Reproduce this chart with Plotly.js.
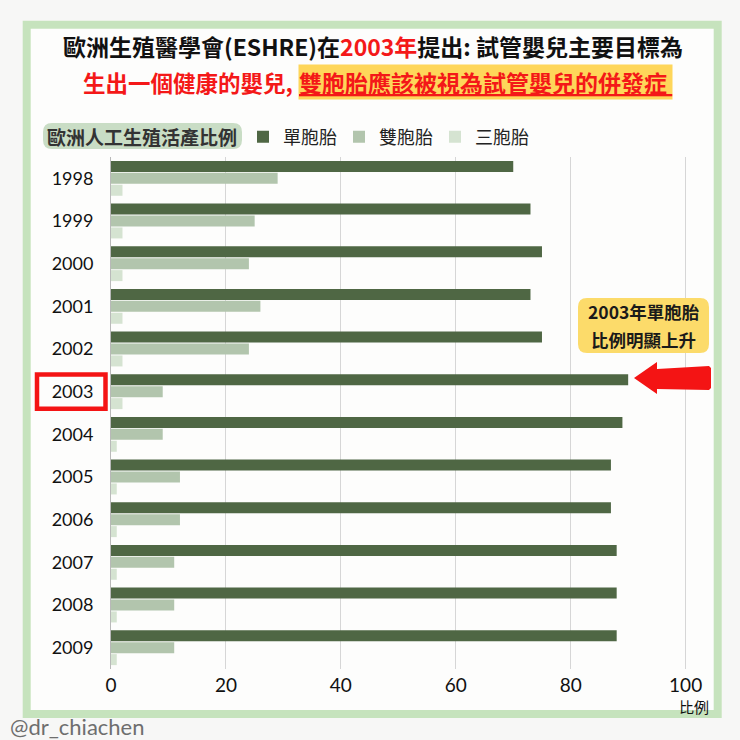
<!DOCTYPE html>
<html>
<head>
<meta charset="utf-8">
<script src="https://cdn.plot.ly/plotly-3.0.1.min.js"></script>
<style>html,body{margin:0;padding:0;background:#f7f7f6;}</style>
</head>
<body>
<div id="chart" style="width:740px;height:740px;"></div>
<script>
// ---- data ----
const years = ["1998","1999","2000","2001","2002","2003","2004","2005","2006","2007","2008","2009"];
const singleton = [70, 73, 75, 73, 75, 90, 89, 87, 87, 88, 88, 88];
const twins     = [29, 25, 24, 26, 24,  9,  9, 12, 12, 11, 11, 11];
const triplets  = [ 2,  2,  2,  2,  2,  2,  1,  1,  1,  1,  1,  1];
const seriesNames = ["單胞胎", "雙胞胎", "三胞胎"];
const xTicks = [0, 20, 40, 60, 80, 100];

// ---- layout helpers (pixel -> paper) ----
const L = 111, T = 157, W = 589, H = 512;
const px = x => (x - L) / W;
const py = y => (T + H - y) / H;

const CJK = '"Noto Sans CJK TC", "Noto Sans CJK SC", sans-serif';
const NUM = 'Lato, "Noto Sans CJK TC", sans-serif';
const RED = '#f41818';

const colors = ['#4f6744', '#b2c5ad', '#d5e3d1'];
const vals = [singleton, twins, triplets];
const traces = vals.map((v, i) => ({
  type: 'bar', orientation: 'h',
  y: years, x: v, name: seriesNames[i],
  marker: {color: colors[i]},
  hoverinfo: 'x+y+name'
}));

function rpath(x0, y0, x1, y1, r) {
  const P = (x, y) => px(x).toFixed(5) + ',' + py(y).toFixed(5);
  return 'M' + P(x0 + r, y0) + ' L' + P(x1 - r, y0) + ' Q' + P(x1, y0) + ' ' + P(x1, y0 + r) +
    ' L' + P(x1, y1 - r) + ' Q' + P(x1, y1) + ' ' + P(x1 - r, y1) +
    ' L' + P(x0 + r, y1) + ' Q' + P(x0, y1) + ' ' + P(x0, y1 - r) +
    ' L' + P(x0, y0 + r) + ' Q' + P(x0, y0) + ' ' + P(x0 + r, y0) + ' Z';
}
function ppath(pts) {
  return 'M' + pts.map(p => px(p[0]).toFixed(5) + ',' + py(p[1]).toFixed(5)).join(' L') + ' Z';
}

const shapes = [
  {type: 'rect', xref: 'paper', yref: 'paper', layer: 'below',
   x0: px(26.7), x1: px(717.7), y0: py(714), y1: py(24.7),
   line: {color: '#c6e3bd', width: 8}, fillcolor: '#fdfdfc'},
  {type: 'path', xref: 'paper', yref: 'paper', layer: 'below',
   path: rpath(43, 123, 242, 149, 9), fillcolor: '#c9ddc5', line: {width: 0}},
  {type: 'path', xref: 'paper', yref: 'paper', layer: 'above',
   path: rpath(578, 298, 709, 353, 9), fillcolor: '#fcdb6a', line: {width: 0}},
  {type: 'path', xref: 'paper', yref: 'paper', layer: 'above',
   path: ppath([[634, 378], [657, 362], [657, 369], [709, 366], [711, 368], [711, 388], [709, 390], [657, 389], [657, 394]]),
   fillcolor: '#f41414', line: {width: 0}},
  {type: 'rect', xref: 'paper', yref: 'y', layer: 'above',
   x0: px(37), x1: px(105.5), y0: 4.6, y1: 5.4,
   line: {color: '#f41414', width: 4.5}, fillcolor: 'rgba(0,0,0,0)'}
];

const annotations = [
  {xref: 'paper', yref: 'paper', x: px(295), y: py(82), xanchor: 'right', yanchor: 'middle',
   text: '<b>生出一個健康的嬰兒,</b>', showarrow: false,
   font: {family: CJK, size: 22.5, color: RED}},
  {xref: 'paper', yref: 'paper', x: px(298), y: py(82), xanchor: 'left', yanchor: 'middle',
   text: '<b><span style="text-decoration:underline">雙胞胎應該被視為試管嬰兒的併發症 </span></b>', showarrow: false,
   bgcolor: '#fed65a', borderpad: 0,
   font: {family: CJK, size: 23, color: RED}},
  {xref: 'paper', yref: 'paper', x: px(142), y: py(136), xanchor: 'center', yanchor: 'middle',
   text: '<b>歐洲人工生殖活產比例</b>', showarrow: false,
   font: {family: CJK, size: 19, color: '#333333'}},
  {xref: 'paper', yref: 'paper', x: px(643.5), y: py(311), xanchor: 'center', yanchor: 'middle',
   text: '<b>2003年單胞胎</b>', showarrow: false,
   font: {family: CJK, size: 17.5, color: '#1a1a1a'}},
  {xref: 'paper', yref: 'paper', x: px(643.5), y: py(339), xanchor: 'center', yanchor: 'middle',
   text: '<b>比例明顯上升</b>', showarrow: false,
   font: {family: CJK, size: 17.5, color: '#1a1a1a'}},
  {xref: 'paper', yref: 'paper', x: px(711), y: py(706), xanchor: 'right', yanchor: 'middle',
   text: '比例', showarrow: false,
   font: {family: CJK, size: 15, color: '#111111'}},
  {xref: 'paper', yref: 'paper', x: px(8), y: py(726), xanchor: 'left', yanchor: 'middle',
   text: '@dr_chiachen', showarrow: false,
   font: {family: NUM, size: 22, color: '#6e6e6e'}}
];

const layout = {
  width: 740, height: 740,
  margin: {l: L, r: 740 - L - W, t: T, b: 740 - T - H, pad: 0},
  paper_bgcolor: '#f7f7f6',
  plot_bgcolor: 'rgba(0,0,0,0)',
  title: {
    text: '<b>歐洲生殖醫學會(ESHRE)在<span style="color:' + RED + '">2003年</span>提出: 試管嬰兒主要目標為</b>',
    x: 373 / 740, xanchor: 'center', y: 1 - 47.5 / 740, yanchor: 'middle',
    xref: 'container', yref: 'container',
    font: {family: CJK, size: 23, color: '#111111'}
  },
  barmode: 'group', bargap: 0.16, bargroupgap: 0.08,
  showlegend: true,
  legend: {
    orientation: 'h', x: px(243), xanchor: 'left', y: py(137), yanchor: 'middle',
    font: {family: CJK, size: 18, color: '#222222'},
    bgcolor: 'rgba(0,0,0,0)', traceorder: 'normal',
    entrywidth: 51, entrywidthmode: 'pixels'
  },
  xaxis: {
    range: [0, 102.5], tickvals: xTicks, ticktext: xTicks.map(String),
    showgrid: true, gridcolor: '#d6d6d6', gridwidth: 1,
    zeroline: false, showline: false, ticks: '',
    tickfont: {family: NUM, size: 19, color: '#111111'},
    ticklabelstandoff: 3, fixedrange: true
  },
  yaxis: {
    type: 'category', autorange: 'reversed',
    showgrid: false, zeroline: false,
    showline: true, linecolor: '#b9b9b9', linewidth: 1,
    ticks: '', tickfont: {family: NUM, size: 18, color: '#111111'},
    ticklabelstandoff: 13, fixedrange: true
  },
  shapes: shapes,
  annotations: annotations
};

Plotly.newPlot('chart', traces, layout, {displayModeBar: false, staticPlot: true});
</script>
</body>
</html>
